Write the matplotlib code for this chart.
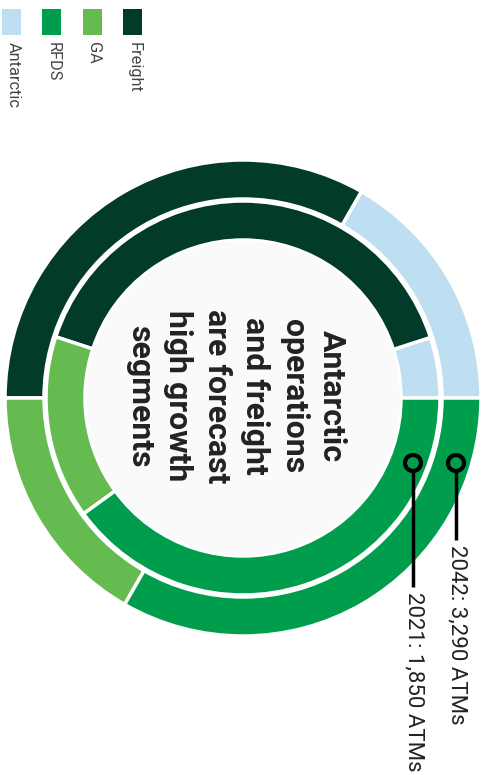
import matplotlib
matplotlib.use("Agg")
import matplotlib.pyplot as plt
from matplotlib.patches import Rectangle, Circle

plt.rcParams['font.family'] = ['Roboto', 'DejaVu Sans']

# Segments and colours
categories = ['Antarctic', 'RFDS', 'GA', 'Freight']
colors = {'Antarctic': '#BEDEF2', 'RFDS': '#009E4C', 'GA': '#66BB50', 'Freight': '#023B2A'}

# Air traffic movements by segment
atms_2042 = {'Antarctic': 550, 'Freight': 1095, 'GA': 550, 'RFDS': 1095}
atms_2021 = {'Antarctic': 92, 'Freight': 740, 'GA': 278, 'RFDS': 740}
ring_order = ['Antarctic', 'Freight', 'GA', 'RFDS']

label_2042 = '2042: 3,290 ATMs'
label_2021 = '2021: 1,850 ATMs'
centre_text = 'Antarctic\noperations\nand freight\nare forecast\nhigh growth\nsegments'

W, H = 485, 775
fig = plt.figure(figsize=(W / 100, H / 100), dpi=100)
ax = fig.add_axes([0, 0, 1, 1])

cx, cy = 243, H - 398
wedge_kw = dict(edgecolor='white', linewidth=2.5)

ax.pie([atms_2042[k] for k in ring_order], colors=[colors[k] for k in ring_order],
       radius=238, center=(cx, cy), startangle=0, counterclock=True,
       wedgeprops=dict(width=39, **wedge_kw))
ax.pie([atms_2021[k] for k in ring_order], colors=[colors[k] for k in ring_order],
       radius=197, center=(cx, cy), startangle=0, counterclock=True,
       wedgeprops=dict(width=39, **wedge_kw))
ax.add_patch(Circle((cx, cy), 157, facecolor='#FAFAFA', edgecolor='none', zorder=3))

ax.text(cx - 7, cy + 2, centre_text, rotation=-90, ha='center', va='center',
        multialignment='center', fontsize=23, fontweight='bold', color='#222222',
        linespacing=1.35, zorder=4)

# Callouts for the two rings
for x, y_end, label in [(456, 540, label_2042), (413, 587, label_2021)]:
    ax.plot([x, x], [H - 471, H - y_end], color='black', lw=2.5, zorder=5,
            solid_capstyle='butt')
    ax.add_patch(Circle((x, H - 463), 8, facecolor='none', edgecolor='black',
                        linewidth=3, zorder=6))
    ax.text(x + 1, H - y_end - 5, label, rotation=-90, ha='center', va='top',
            fontsize=16, color='#222222', zorder=6)

# Legend
for i, cat in enumerate(categories):
    x0 = 2 + i * 40.5
    ax.add_patch(Rectangle((x0, H - 35), 19, 26, facecolor=colors[cat], edgecolor='none'))
    ax.text(x0 + 11, H - 42, cat, rotation=-90, ha='center', va='top',
            fontsize=11.8, color='#444444')

ax.set_xlim(0, W)
ax.set_ylim(0, H)
ax.set_aspect('equal')
ax.axis('off')
fig.savefig('out.png', dpi=100, facecolor='white')
